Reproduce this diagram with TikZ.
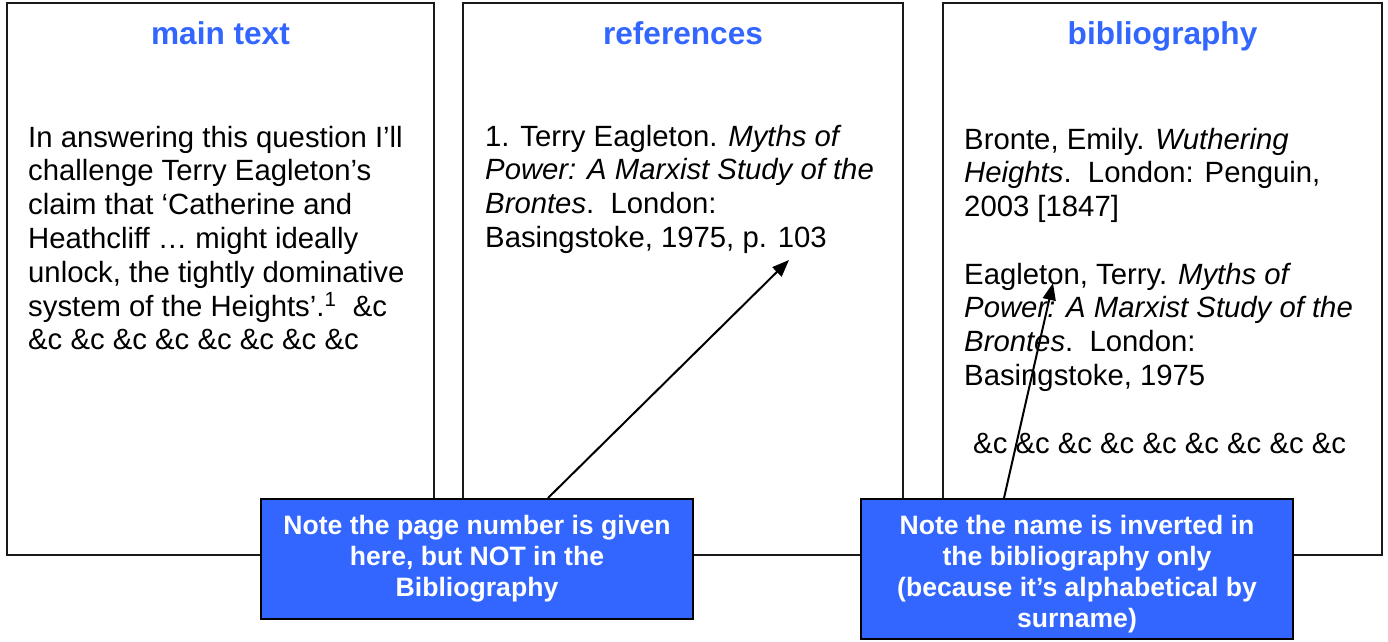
\documentclass[tikz,border=0pt]{standalone}
\usepackage{fontspec}
\setmainfont{Liberation Sans}
\usetikzlibrary{arrows.meta}
\definecolor{noteblue}{HTML}{3366FF}
\definecolor{headblue}{HTML}{3366FF}
\begin{document}
\begin{tikzpicture}[x=1pt,y=-1pt,
  panel/.style={draw=black!90, line width=1.5pt, fill=white, inner sep=0pt, minimum height=552pt},
  heading/.style={anchor=base, inner sep=0pt, text=headblue, font=\bfseries\fontsize{31.6}{36}\selectfont},
  body/.style={anchor=base west, align=left, inner sep=0pt, font=\fontsize{29.3}{33.8}\selectfont},
  note/.style={draw=black, line width=2pt, fill=noteblue, text=white, align=center, inner sep=0pt,
    minimum width=432pt, font=\bfseries\fontsize{26.6}{31}\selectfont},
  pointer/.style={line width=2pt, -{Triangle[length=17pt,width=13pt]}}]
\useasboundingbox (0,0) rectangle (1388,641);
% panels
\node[panel, minimum width=427pt] (pm) at (220.5,279) {};
\node[panel, minimum width=440pt] (pr) at (683,279) {};
\node[panel, minimum width=439pt] (pb) at (1162.5,279) {};
% headings
\node[heading] (hm) at (220.5,44) {main text};
\node[heading] (hr) at (683,44) {references};
\node[heading] (hb) at (1162.5,44) {bibliography};
% texts (anchored at the baseline of their last line)
\node[body] (tm) at (28,349.8) {In answering this question I’ll\\
challenge Terry Eagleton’s\\
claim that ‘Catherine and\\
Heathcliff … might ideally\\
unlock, the tightly dominative\\
system of the Heights’.\textsuperscript{1}\ \ \&c\\
\&c \&c \&c \&c \&c \&c \&c \&c};
\node[body] (tr) at (485,247.4) {1. Terry Eagleton. \textit{Myths of}\\
\textit{Power: A Marxist Study of the}\\
\textit{Brontes}.\ \ London:\\
Basingstoke, 1975, p. 103};
\node[body] (tb1) at (964,216.6) {Bronte, Emily. \textit{Wuthering}\\
\textit{Heights}.\ \ London: Penguin,\\
2003 [1847]};
\node[body] (tb2) at (964,385.4) {Eagleton, Terry. \textit{Myths of}\\
\textit{Power: A Marxist Study of the}\\
\textit{Brontes}.\ \ London:\\
Basingstoke, 1975};
\node[body] (tb3) at (973,453) {\&c \&c \&c \&c \&c \&c \&c \&c \&c};
% callouts
\node[note, minimum height=120pt] (n1) at (477,559) {Note the page number is given\\ here, but NOT in the\\ Bibliography};
\node[note, minimum height=140pt] (n2) at (1077,569) {\rule{0pt}{29pt}Note the name is inverted in\\ the bibliography only\\ (because it’s alphabetical by\\ surname)};
% pointers
\coordinate (t1) at (789,260);
\coordinate (t2) at (1053,283);
\draw[pointer] ([xshift=71pt]n1.north) -- (t1);
\draw[pointer] ([xshift=-73pt]n2.north) -- (t2);
\end{tikzpicture}
\end{document}
